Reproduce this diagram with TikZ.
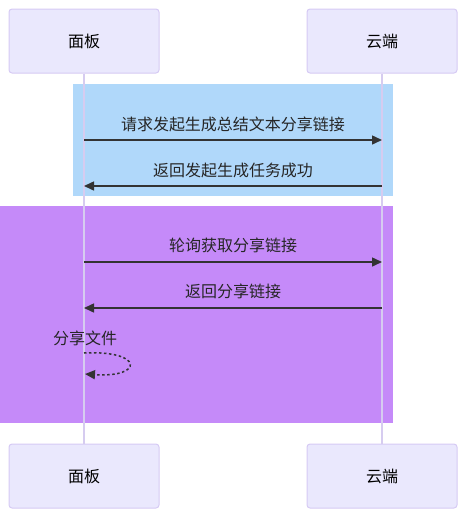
\documentclass[tikz,border=0pt]{standalone}
\usepackage{fontspec}
\setmainfont{Noto Sans CJK SC}
\usetikzlibrary{arrows.meta}
\definecolor{boxfill}{RGB}{234,232,253}
\definecolor{boxline}{RGB}{214,202,244}
\definecolor{lifecol}{RGB}{214,204,240}
\definecolor{reqblue}{RGB}{176,216,250}
\definecolor{pollviolet}{RGB}{197,138,249}
\definecolor{msgcol}{RGB}{51,51,51}
\tikzset{
  actor/.style={draw=boxline,fill=boxfill,line width=1pt,rounded corners=3pt,minimum width=150pt,minimum height=64pt,inner sep=0pt,font=\fontsize{16pt}{19pt}\selectfont},
  life/.style={draw=lifecol,line width=1.2pt},
  msg/.style={draw=msgcol,line width=1.5pt,-{Triangle[length=10pt,width=9pt]}},
  selfmsg/.style={msg,dash pattern=on 2.5pt off 2.5pt},
  mlab/.style={anchor=base,text=black!85,inner sep=0pt,font=\fontsize{16pt}{19pt}\selectfont},
  every picture/.style={x=1pt,y=-1pt}
}
\begin{document}
\begin{tikzpicture}
  \useasboundingbox (0,0) rectangle (467,520);
  % background groups
  \fill[reqblue] (73,84) rectangle (393,196);
  \fill[pollviolet] (0,206) rectangle (393,423);
  % participants
  \node[actor] (pbTop) at (84,41) {面板};
  \node[actor] (ydTop) at (382,41) {云端};
  \node[actor] (pbBot) at (84,476) {面板};
  \node[actor] (ydBot) at (382,476) {云端};
  \draw[life] (pbTop) -- (pbBot);
  \draw[life] (ydTop) -- (ydBot);
  % message points
  \coordinate (pb1) at (84,140); \coordinate (yd1) at (382,140);
  \coordinate (pb2) at (84,186); \coordinate (yd2) at (382,186);
  \coordinate (pb3) at (84,262); \coordinate (yd3) at (382,262);
  \coordinate (pb4) at (84,308); \coordinate (yd4) at (382,308);
  \coordinate (pb5) at (84,353); \coordinate (pb6) at (85,374);
  % messages
  \draw[msg] (pb1) -- (yd1);
  \node[mlab] (m1) at (233,130) {请求发起生成总结文本分享链接};
  \draw[msg] (yd2) -- (pb2);
  \node[mlab] (m2) at (233,176) {返回发起生成任务成功};
  \draw[msg] (pb3) -- (yd3);
  \node[mlab] (m3) at (233,251) {轮询获取分享链接};
  \draw[msg] (yd4) -- (pb4);
  \node[mlab] (m4) at (233,297) {返回分享链接};
  \draw[selfmsg] (pb5) .. controls (144,350) and (144,378) .. (pb6);
  \node[mlab] (m5) at (85,344) {分享文件};
\end{tikzpicture}
\end{document}
